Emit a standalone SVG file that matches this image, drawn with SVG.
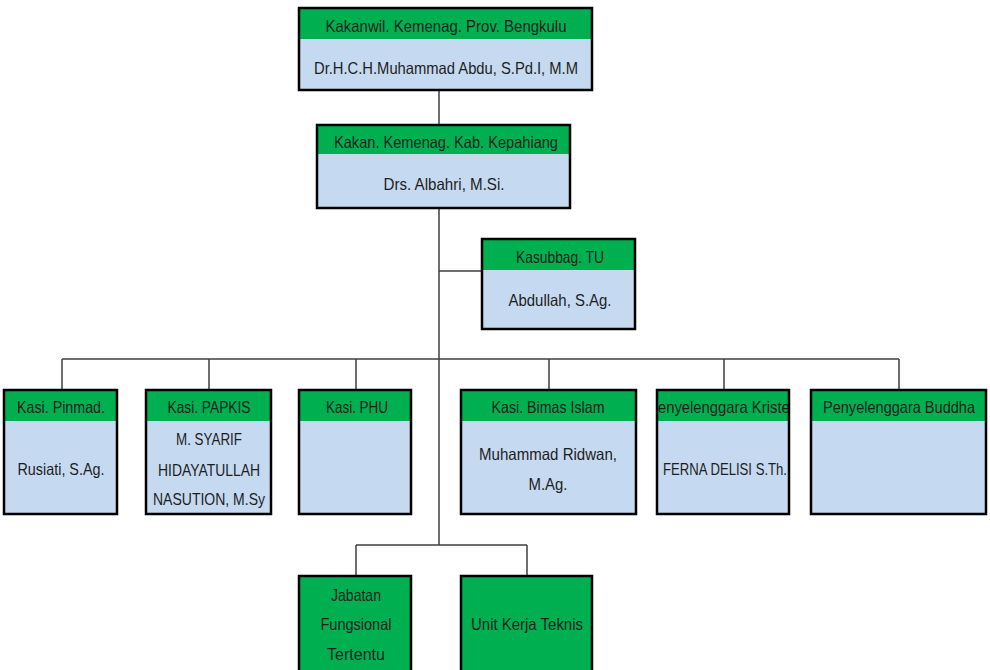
<svg xmlns="http://www.w3.org/2000/svg" width="990" height="670" viewBox="0 0 990 670">
<defs>
<style>
.hd{fill:#00B050}
.bd{fill:#C5D9F1}
.ol{fill:none;stroke:#000;stroke-width:2.5}
.t{font-family:"Liberation Sans",Arial,sans-serif;font-size:16.5px;fill:#1e1e1e;text-anchor:middle}
.c{stroke:#404040;stroke-width:1.5;fill:none}
</style>
<clipPath id="clipK"><rect x="657" y="390" width="132" height="31"/></clipPath>
</defs>
<rect width="990" height="670" fill="#fff"/>
<g id="connectors">
<path class="c" d="M439 90V125M439 208V545M439 271H482M62 359H899M62 359V390M209 359V390M356 359V390M549 359V390M724 359V390M899 359V390M356 545H527M356 545V576M527 545V576"/>
</g>
<g id="kakanwil">
<rect class="bd" x="299" y="8" width="293" height="82"/>
<rect class="hd" x="299" y="8" width="293" height="31"/>
<rect class="ol" x="299" y="8" width="293" height="82"/>
<text class="t" x="446" y="32" textLength="241" lengthAdjust="spacingAndGlyphs">Kakanwil. Kemenag. Prov. Bengkulu</text>
<text class="t" x="446" y="74" textLength="264" lengthAdjust="spacingAndGlyphs">Dr.H.C.H.Muhammad Abdu, S.Pd.I, M.M</text>
</g>
<g id="kakan">
<rect class="bd" x="317" y="125" width="253" height="83"/>
<rect class="hd" x="317" y="125" width="253" height="29"/>
<rect class="ol" x="317" y="125" width="253" height="83"/>
<text class="t" x="446" y="148" textLength="224" lengthAdjust="spacingAndGlyphs">Kakan. Kemenag. Kab. Kepahiang</text>
<text class="t" x="444" y="190" textLength="121" lengthAdjust="spacingAndGlyphs">Drs. Albahri, M.Si.</text>
</g>
<g id="kasubbag">
<rect class="bd" x="482" y="239" width="153" height="90"/>
<rect class="hd" x="482" y="239" width="153" height="31"/>
<rect class="ol" x="482" y="239" width="153" height="90"/>
<text class="t" x="560" y="263" textLength="88" lengthAdjust="spacingAndGlyphs">Kasubbag. TU</text>
<text class="t" x="560" y="306" textLength="103" lengthAdjust="spacingAndGlyphs">Abdullah, S.Ag.</text>
</g>
<g id="pinmad">
<rect class="bd" x="4" y="390" width="113" height="124"/>
<rect class="hd" x="4" y="390" width="113" height="31"/>
<rect class="ol" x="4" y="390" width="113" height="124"/>
<text class="t" x="61" y="413" textLength="88" lengthAdjust="spacingAndGlyphs">Kasi. Pinmad.</text>
<text class="t" x="61" y="475" textLength="87" lengthAdjust="spacingAndGlyphs">Rusiati, S.Ag.</text>
</g>
<g id="papkis">
<rect class="bd" x="146" y="390" width="125" height="124"/>
<rect class="hd" x="146" y="390" width="125" height="31"/>
<rect class="ol" x="146" y="390" width="125" height="124"/>
<text class="t" x="209" y="413" textLength="83" lengthAdjust="spacingAndGlyphs">Kasi. PAPKIS</text>
<text class="t" x="209" y="445" textLength="66" lengthAdjust="spacingAndGlyphs">M. SYARIF</text>
<text class="t" x="209" y="476" textLength="102" lengthAdjust="spacingAndGlyphs">HIDAYATULLAH</text>
<text class="t" x="209" y="505" textLength="112" lengthAdjust="spacingAndGlyphs">NASUTION, M.Sy</text>
</g>
<g id="phu">
<rect class="bd" x="299" y="390" width="112" height="124"/>
<rect class="hd" x="299" y="390" width="112" height="31"/>
<rect class="ol" x="299" y="390" width="112" height="124"/>
<text class="t" x="357" y="413" textLength="62" lengthAdjust="spacingAndGlyphs">Kasi. PHU</text>
</g>
<g id="bimas">
<rect class="bd" x="461" y="390" width="175" height="124"/>
<rect class="hd" x="461" y="390" width="175" height="31"/>
<rect class="ol" x="461" y="390" width="175" height="124"/>
<text class="t" x="548" y="413" textLength="113" lengthAdjust="spacingAndGlyphs">Kasi. Bimas Islam</text>
<text class="t" x="548" y="460" textLength="138" lengthAdjust="spacingAndGlyphs">Muhammad Ridwan,</text>
<text class="t" x="548" y="490" textLength="39" lengthAdjust="spacingAndGlyphs">M.Ag.</text>
</g>
<g id="kristen">
<rect class="bd" x="657" y="390" width="132" height="124"/>
<rect class="hd" x="657" y="390" width="132" height="31"/>
<text class="t" x="723" y="413" textLength="150" lengthAdjust="spacingAndGlyphs" clip-path="url(#clipK)">Penyelenggara Kristen</text>
<rect class="ol" x="657" y="390" width="132" height="124"/>
<text class="t" x="725" y="475" textLength="124" lengthAdjust="spacingAndGlyphs">FERNA DELISI S.Th.</text>
</g>
<g id="buddha">
<rect class="bd" x="811" y="390" width="175" height="124"/>
<rect class="hd" x="811" y="390" width="175" height="31"/>
<rect class="ol" x="811" y="390" width="175" height="124"/>
<text class="t" x="899" y="413" textLength="152" lengthAdjust="spacingAndGlyphs">Penyelenggara Buddha</text>
</g>
<g id="jabatan">
<rect class="hd" x="299" y="576" width="112" height="100"/>
<rect class="ol" x="299" y="576" width="112" height="100"/>
<text class="t" x="356" y="601" textLength="50" lengthAdjust="spacingAndGlyphs">Jabatan</text>
<text class="t" x="356" y="630" textLength="71" lengthAdjust="spacingAndGlyphs">Fungsional</text>
<text class="t" x="356" y="660" textLength="58" lengthAdjust="spacingAndGlyphs">Tertentu</text>
</g>
<g id="unitkerja">
<rect class="hd" x="461" y="576" width="131" height="100"/>
<rect class="ol" x="461" y="576" width="131" height="100"/>
<text class="t" x="527" y="630" textLength="112" lengthAdjust="spacingAndGlyphs">Unit Kerja Teknis</text>
</g>
</svg>
